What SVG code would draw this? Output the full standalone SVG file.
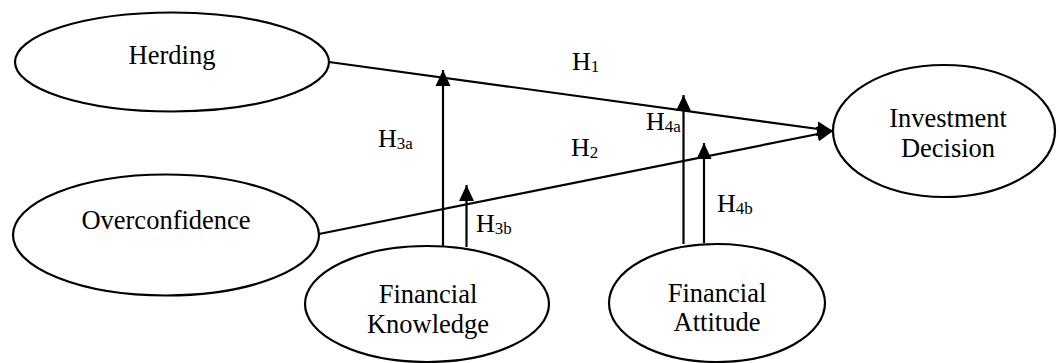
<svg xmlns="http://www.w3.org/2000/svg" width="1061" height="363" viewBox="0 0 1061 363">
<style>
.n{fill:#fff;stroke:#000;stroke-width:2.2}
.t{font-family:'Liberation Serif','Times New Roman',serif;font-size:26.5px;fill:#000;text-anchor:middle}
.l{font-family:'Liberation Serif','Times New Roman',serif;font-size:26px;fill:#000}
.s{font-size:17px}
.c{stroke:#000;stroke-width:2.2;fill:none;marker-end:url(#ah)}
</style>
<defs>
<marker id="ah" markerUnits="userSpaceOnUse" markerWidth="18" markerHeight="18" viewBox="0 0 18 18" refX="16" refY="9" orient="auto">
<path d="M0,1.5 L16,9 L0,16.5 Z" fill="#000"/>
</marker>
</defs>
<rect width="1061" height="363" fill="#fff"/>
<g id="connectors">
<line class="c" x1="329" y1="62" x2="833" y2="131"/>
<line class="c" x1="319" y1="234" x2="833" y2="131"/>
<line class="c" x1="443" y1="246" x2="443" y2="70"/>
<line class="c" x1="466.5" y1="247" x2="466.5" y2="185"/>
<line class="c" x1="683.5" y1="244" x2="683.5" y2="95"/>
<line class="c" x1="704" y1="243" x2="704" y2="143"/>
<text class="l" x="572" y="70">H<tspan class="s" dy="2">1</tspan></text>
<text class="l" x="571" y="156">H<tspan class="s" dy="2">2</tspan></text>
<text class="l" x="378" y="147">H<tspan class="s" dy="2">3a</tspan></text>
<text class="l" x="476" y="232">H<tspan class="s" dy="2">3b</tspan></text>
<text class="l" x="646" y="130">H<tspan class="s" dy="2">4a</tspan></text>
<text class="l" x="717" y="212">H<tspan class="s" dy="2">4b</tspan></text>
</g>
<g id="herding">
<ellipse class="n" cx="172" cy="62" rx="157" ry="49.5"/>
<text class="t" x="172" y="64">Herding</text>
</g>
<g id="overconfidence">
<ellipse class="n" cx="166" cy="235" rx="153" ry="60.5"/>
<text class="t" x="166" y="229">Overconfidence</text>
</g>
<g id="financial-knowledge">
<ellipse class="n" cx="427" cy="304" rx="122" ry="58"/>
<text class="t" x="428" y="303">Financial</text>
<text class="t" x="428" y="333">Knowledge</text>
</g>
<g id="financial-attitude">
<ellipse class="n" cx="717" cy="303" rx="108" ry="59"/>
<text class="t" x="717" y="302">Financial</text>
<text class="t" x="717" y="331">Attitude</text>
</g>
<g id="investment-decision">
<ellipse class="n" cx="944" cy="131" rx="111" ry="66"/>
<text class="t" x="948" y="127">Investment</text>
<text class="t" x="948" y="157">Decision</text>
</g>
</svg>
